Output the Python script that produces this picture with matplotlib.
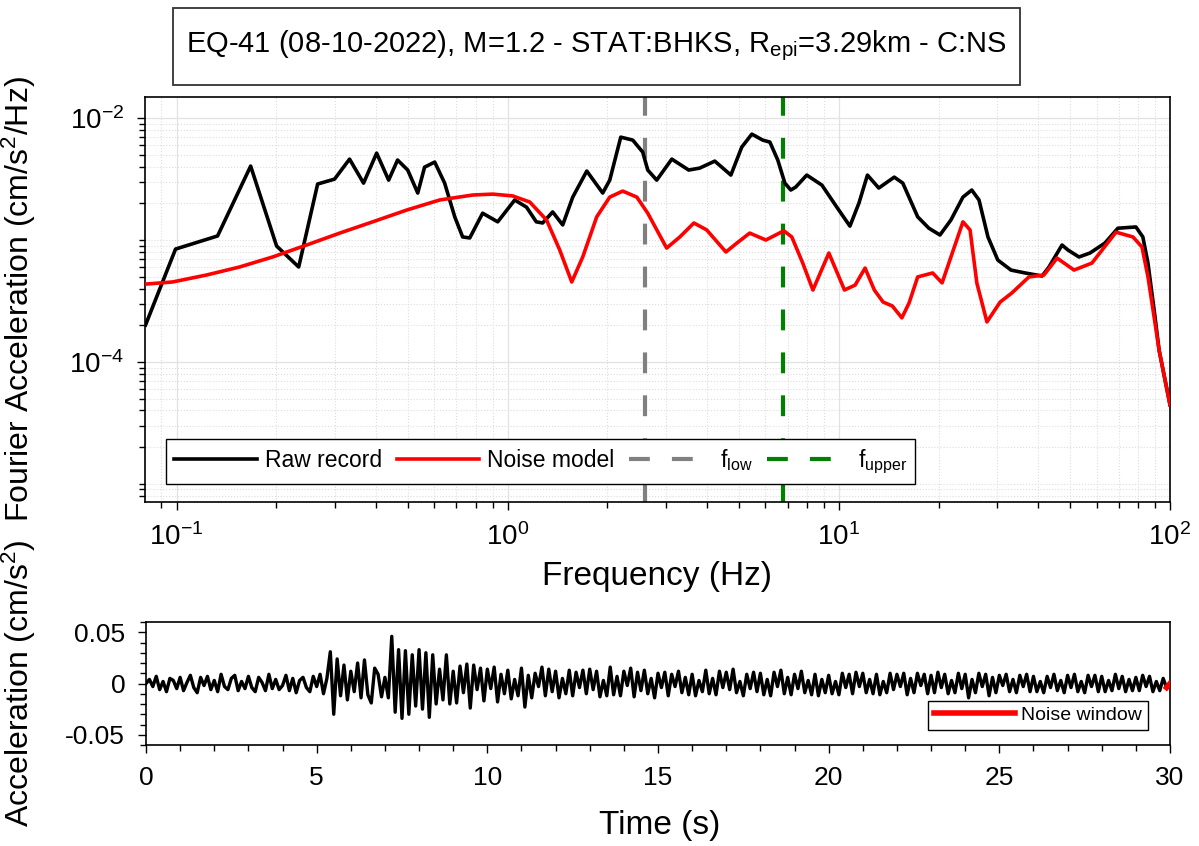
import numpy as np
import matplotlib
matplotlib.use("Agg")
import matplotlib.pyplot as plt
from matplotlib.patches import Rectangle
from matplotlib.ticker import FixedLocator, LogLocator, NullFormatter, MultipleLocator

plt.rcParams['font.family'] = ['Liberation Sans', 'DejaVu Sans']
plt.rcParams['mathtext.fontset'] = 'custom'
plt.rcParams['mathtext.rm'] = 'Liberation Sans'
plt.rcParams['mathtext.it'] = 'Liberation Sans:italic'
plt.rcParams['axes.unicode_minus'] = False

# ---- Fourier spectra ----
raw_f = [0.0806, 0.0993, 0.133, 0.1674, 0.2005, 0.2338, 0.2667, 0.300, 0.333, 0.367,
         0.402, 0.437, 0.465, 0.499, 0.535, 0.561, 0.602, 0.645, 0.692, 0.731,
         0.768, 0.840, 0.933, 1.05, 1.14, 1.22, 1.275, 1.367, 1.466, 1.572,
         1.733, 1.936, 2.033, 2.195, 2.386, 2.557, 2.648, 2.818, 3.13, 3.52,
         3.80, 4.22, 4.72, 5.09, 5.46, 5.89, 6.19, 6.54, 6.87, 7.16,
         7.41, 8.00, 8.89, 9.86, 10.8, 11.5, 12.2, 13.2, 14.7, 15.6,
         17.3, 18.7, 20.2, 21.8, 23.7, 25.2, 26.5, 28.2, 30.2, 33.1,
         36.5, 41.1, 43.1, 47.2, 49.2, 53.1, 57.3, 63.6, 69.6, 78.9,
         82.8, 85.8, 90.1, 92.7, 100.0]
raw_amp = [2.01e-4, 8.43e-4, 1.08e-3, 4.04e-3, 8.93e-4, 6.01e-4, 2.88e-3, 3.16e-3, 4.61e-3, 2.93e-3,
           5.16e-3, 3.10e-3, 4.53e-3, 3.75e-3, 2.43e-3, 3.96e-3, 4.36e-3, 2.93e-3, 1.55e-3, 1.06e-3,
           1.04e-3, 1.66e-3, 1.41e-3, 2.13e-3, 1.86e-3, 1.41e-3, 1.38e-3, 1.70e-3, 1.33e-3, 2.25e-3,
           3.68e-3, 2.43e-3, 3.10e-3, 6.98e-3, 6.60e-3, 5.26e-3, 3.75e-3, 3.10e-3, 4.61e-3, 3.75e-3,
           3.89e-3, 4.44e-3, 3.41e-3, 5.78e-3, 7.39e-3, 6.60e-3, 6.36e-3, 4.53e-3, 2.93e-3, 2.57e-3,
           2.72e-3, 3.41e-3, 2.82e-3, 1.86e-3, 1.30e-3, 2.01e-3, 3.41e-3, 2.67e-3, 3.28e-3, 2.93e-3,
           1.55e-3, 1.25e-3, 1.10e-3, 1.46e-3, 2.25e-3, 2.57e-3, 2.13e-3, 1.06e-3, 6.85e-4, 5.67e-4,
           5.37e-4, 5.07e-4, 6.01e-4, 9.10e-4, 8.28e-4, 7.26e-4, 7.82e-4, 9.44e-4, 1.25e-3, 1.28e-3,
           1.06e-3, 6.47e-4, 2.34e-4, 1.25e-4, 4.45e-5]

noise_f = [0.0806, 0.0973, 0.123, 0.155, 0.195, 0.247, 0.311, 0.391, 0.495, 0.623,
           0.784, 0.901, 1.035, 1.166, 1.31, 1.436, 1.561, 1.685, 1.857, 2.033,
           2.225, 2.454, 2.648, 3.02, 3.31, 3.65, 3.99, 4.56, 4.92, 5.38,
           6.02, 6.82, 7.21, 7.78, 8.35, 9.33, 10.4, 11.2, 12.0, 12.8,
           13.6, 14.5, 15.5, 16.3, 17.3, 19.2, 20.5, 21.8, 23.7, 24.9,
           26.1, 28.0, 30.7, 33.3, 37.5, 41.6, 45.6, 51.3, 58.1, 68.7,
           77.3, 82.3, 85.8, 90.1, 92.7, 100.0]
noise_amp = [4.35e-4, 4.53e-4, 5.16e-4, 6.01e-4, 7.26e-4, 9.10e-4, 1.14e-3, 1.41e-3, 1.76e-3, 2.13e-3,
             2.34e-3, 2.38e-3, 2.30e-3, 2.05e-3, 1.46e-3, 8.28e-4, 4.53e-4, 7.26e-4, 1.55e-3, 2.25e-3,
             2.52e-3, 2.25e-3, 1.66e-3, 8.59e-4, 1.06e-3, 1.38e-3, 1.21e-3, 7.98e-4, 9.44e-4, 1.14e-3,
             1.00e-3, 1.19e-3, 1.06e-3, 6.47e-4, 3.89e-4, 7.82e-4, 3.89e-4, 4.27e-4, 5.89e-4, 3.89e-4,
             3.10e-4, 2.88e-4, 2.30e-4, 3.05e-4, 4.98e-4, 5.37e-4, 4.45e-4, 7.26e-4, 1.41e-3, 1.21e-3,
             4.45e-4, 2.13e-4, 3.10e-4, 3.68e-4, 4.98e-4, 5.16e-4, 7.11e-4, 5.67e-4, 6.47e-4, 1.16e-3,
             1.06e-3, 8.77e-4, 4.98e-4, 2.09e-4, 1.25e-4, 4.45e-5]

f_low = 2.59
f_upper = 6.77

# ---- acceleration trace, one value every 0.1 s (units of 1e-3 cm/s^2) ----
dt = 0.1
acc_milli = [
    0, 4, -3, 7, -6, 2, -8, 5, 3, -5,
    6, -7, 1, 8, -4, -9, 6, -2, 7, -6,
    3, -8, 9, -3, -6, 5, 8, -7, 2, -5,
    7, -4, -8, 6, 1, -7, 9, -5, 4, -6,
    -2, 8, -7, 5, -9, 3, 6, -4, -8, 7,
    -3, 9, -10, 5, 31, -30, 24, -12, 18, -16,
    12, -8, 20, -14, 23, -11, -19, 15, 9, -13,
    6, -14, 46, -28, 33, -34, 32, -30, 28, -22,
    33, -25, 30, -33, 28, -20, 14, -16, 28, -20,
    12, -19, 17, -9, 19, -24, 18, -6, 15, -17,
    14, -5, 16, -18, 9, -10, 13, -15, 4, -12,
    15, -23, 8, -14, 10, -3, 16, -12, 14, -8,
    12, -14, 5, -10, 13, -12, 11, -4, 13, -10,
    14, -6, 12, -13, 3, -12, 16, -11, 7, -12,
    12, -2, 15, -13, 11, -7, 13, -10, 5, -14,
    10, -4, 11, -12, 9, -3, 12, -9, 6, -11,
    9, -12, 3, -8, 13, -10, 5, -11, 12, -4,
    11, -6, 14, -9, 2, -12, 9, -5, 11, -8,
    10, -11, 4, -12, 11, -3, 13, -10, 6, -11,
    9, -5, 12, -9, 3, -11, 9, -12, 4, -9,
    8, -10, 2, -11, 10, -4, 9, -10, 11, -3,
    10, -9, 4, -10, 9, -11, 2, -9, 10, -6,
    9, -3, 10, -11, 5, -9, 10, -2, 9, -10,
    8, -9, 11, -4, 9, -10, 3, -9, 10, -5,
    9, -14, 4, -9, 10, -3, 9, -12, 6, -9,
    8, -2, 9, -8, 4, -9, 8, -3, 9, -8,
    7, -8, 2, -9, 7, -4, 9, -7, 3, -9,
    8, -4, 9, -8, 2, -9, 8, -3, 8, -8,
    7, -8, 3, -7, 9, -5, 7, -8, 4, -7,
    6, -7, 8, -3, 7, -8, 2, -7, 5, -4,
    0]
acc = np.array(acc_milli) * 1e-3
t = np.arange(len(acc)) * dt
noise_t0 = 29.9   # start of noise window

title = r'EQ-41 (08-10-2022), M=1.2 - STAT:BHKS, $\mathrm{R_{epi}}$=3.29km - C:NS'

W, H = 1199, 846
fig = plt.figure(figsize=(W / 100, H / 100), dpi=100)

# title box
fig.patches.append(Rectangle((173 / W, 1 - 85 / H), 847 / W, 77 / H, transform=fig.transFigure,
                             fill=False, edgecolor='#333333', lw=1.3))
fig.text(596 / W, 1 - 46 / H, title, ha='center', va='center', fontsize=21)

# ---- spectrum panel ----
ax = fig.add_axes([145 / W, 1 - 502 / H, 1025 / W, 405 / H])
ax.plot(raw_f, raw_amp, color='black', lw=2.6, label='Raw record', zorder=3)
ax.plot(noise_f, noise_amp, color='red', lw=2.6, label='Noise model', zorder=4)
ax.axvline(f_low, color='#808080', lw=3, dashes=(5, 5.3), label=r'$\mathrm{f_{low}}$', zorder=2)
ax.axvline(f_upper, color='#008000', lw=3, dashes=(5, 5.3), label=r'$\mathrm{f_{upper}}$', zorder=2)
ax.set_xscale('log'); ax.set_yscale('log')
ax.set_xlim(0.0803, 100)
ax.set_ylim(7.1e-6, 1.49e-2)
ax.yaxis.set_major_locator(FixedLocator([1e-4, 1e-2]))
ax.yaxis.set_minor_locator(LogLocator(base=10, subs=np.arange(1, 10)))
ax.yaxis.set_minor_formatter(NullFormatter())
ax.xaxis.set_minor_locator(LogLocator(base=10, subs=np.arange(2, 10)))
ax.xaxis.set_minor_formatter(NullFormatter())
ax.grid(True, which='major', color='#e2e2e2', lw=0.9, ls='-', zorder=0)
ax.grid(True, which='minor', color='#dddddd', lw=0.8, ls=':', zorder=0)
ax.tick_params(which='both', direction='out', top=False, right=False, labelsize=20, width=1, pad=9)
ax.tick_params(which='major', length=6)
ax.tick_params(which='minor', length=4)
for s in ax.spines.values():
    s.set_linewidth(1.2)
ax.set_xlabel('Frequency (Hz)', fontsize=24)
ax.set_ylabel(r'Fourier Acceleration (cm/$\mathrm{s^2}$/Hz)', fontsize=23)
ax.xaxis.set_label_coords(0.5, -0.145)
ax.yaxis.set_label_coords(-0.104, 0.5)
leg = ax.legend(loc='lower left', bbox_to_anchor=(0.0205, 0.044), ncol=4, fontsize=16.5,
                handlelength=3.6, handletextpad=0.35, columnspacing=0.65, borderpad=0.35,
                borderaxespad=0, fancybox=False, framealpha=1, edgecolor='black')
leg.get_frame().set_linewidth(1.0)

# ---- time series panel ----
ax2 = fig.add_axes([146 / W, 1 - 745 / H, 1024 / W, 123 / H])
ax2.plot(t, acc, color='black', lw=2.4, zorder=3)
mask = t >= noise_t0
ax2.plot(t[mask], acc[mask], color='red', lw=4, label='Noise window', zorder=4)
ax2.set_xlim(0, 30)
ax2.set_ylim(-0.06, 0.06)
ax2.set_yticks([-0.05, 0, 0.05])
ax2.set_yticklabels(['-0.05', '0', '0.05'])
ax2.set_xticks([0, 5, 10, 15, 20, 25, 30])
ax2.xaxis.set_minor_locator(MultipleLocator(1))
ax2.yaxis.set_minor_locator(MultipleLocator(0.01))
ax2.tick_params(which='both', direction='out', top=False, right=False, labelsize=19, width=1, pad=9)
ax2.tick_params(which='major', length=6)
ax2.tick_params(which='minor', length=4)
for s in ax2.spines.values():
    s.set_linewidth(1.2)
ax2.set_xlabel('Time (s)', fontsize=24)
ax2.set_ylabel(r'Acceleration (cm/$\mathrm{s^2}$)', fontsize=23)
ax2.xaxis.set_label_coords(0.502, -0.53)
ax2.yaxis.set_label_coords(-0.105, 0.5)
leg2 = ax2.legend(loc='lower right', bbox_to_anchor=(0.9785, 0.122), fontsize=14,
                  handlelength=4.2, handletextpad=0.3, borderpad=0.3, borderaxespad=0,
                  fancybox=False, framealpha=1, edgecolor='black')
leg2.get_frame().set_linewidth(1.0)

fig.savefig('out.png', dpi=100)
